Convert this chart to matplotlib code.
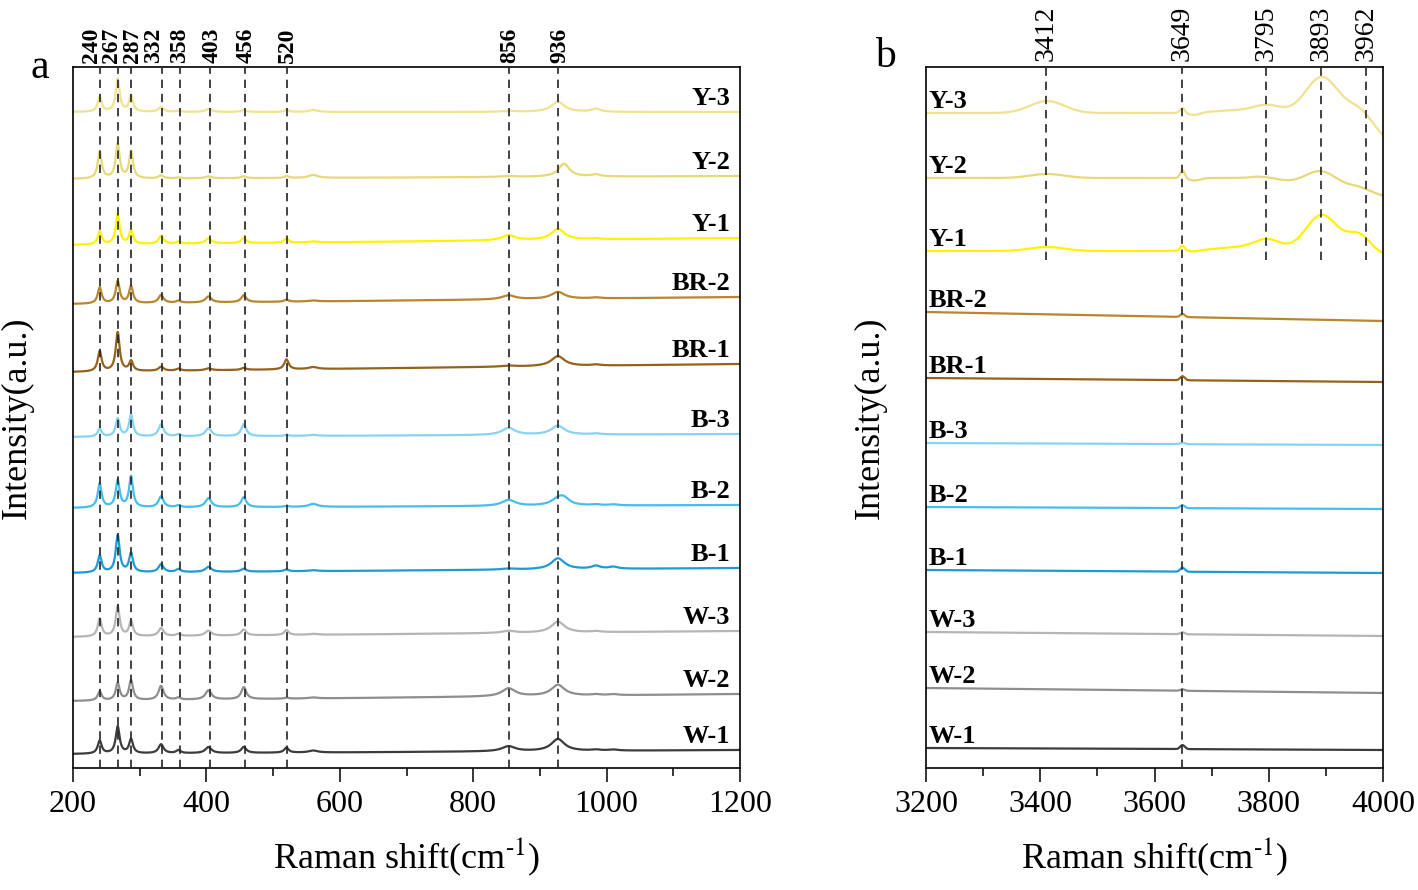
import numpy as np
import matplotlib
matplotlib.use('Agg')
import matplotlib.pyplot as plt
from matplotlib.ticker import MultipleLocator

plt.rcParams['font.family'] = 'serif'
plt.rcParams['font.serif'] = ['Liberation Serif', 'DejaVu Serif']
plt.rcParams['mathtext.fontset'] = 'stix'

# samples, top to bottom
samples = ['Y-3', 'Y-2', 'Y-1', 'BR-2', 'BR-1', 'B-3', 'B-2', 'B-1', 'W-3', 'W-2', 'W-1']
colors = ['#EFE38F', '#E6DA78', '#FFF200', '#B8862E', '#93621C', '#86D3F2',
          '#45BEEE', '#1E9AD6', '#B5B5B5', '#8E8E8E', '#3C3C3C']

# ---- panel a: 200-1200 cm-1 ----
# baseline (left end, right end), arbitrary units
base_a_left = [656, 589, 523, 464, 396, 331, 260, 195, 131, 67, 14]
base_a_right = [656, 592, 530, 471, 404, 334, 263, 200, 137, 74, 18]

peak_pos_a = [240, 267, 287, 332, 358, 403, 456, 520, 560, 853, 927, 936, 984, 1010]
peak_hwhm_a = [3.5, 3.5, 3.5, 4.5, 4, 5.5, 4.5, 4, 8, 12, 12, 10, 8, 8]
peak_height_a = [
    [15, 33, 16, 5, 1, 3, 2, 2, 2, 1, 10, 0, 3, 0],     # Y-3
    [27, 35, 27, 3, 1, 2, 2, 2, 3, 1, 0, 13, 2, 0],     # Y-2
    [13, 30, 14, 8, 2, 5, 5, 4, 1, 5, 11, 0, 1, 0],     # Y-1
    [16, 22, 17, 8, 2, 6, 7, 2, 1, 4, 7, 0, 1, 0],      # BR-2
    [20, 39, 10, 4, 2, 2, 2, 10, 2, 1, 10, 0, 1, 0],    # BR-1
    [8, 18, 22, 12, 2, 8, 12, 1, 1, 7, 9, 0, 1, 0],     # B-3
    [24, 27, 31, 11, 2, 9, 10, 1, 3, 6, 6, 6, 1, 1],    # B-2
    [17, 37, 19, 8, 3, 5, 3, 2, 1, 1, 11, 0, 3, 2],     # B-1
    [18, 30, 15, 8, 2, 5, 6, 5, 1, 2, 11, 0, 1, 0],     # W-3
    [9, 17, 20, 14, 2, 9, 12, 1, 1, 8, 11, 0, 1, 1],    # W-2
    [13, 27, 14, 9, 3, 6, 6, 5, 2, 5, 12, 0, 1, 1],     # W-1
]

marks_a = ['240', '267', '287', '332', '358', '403', '456', '520', '856', '936']
marks_a_line = [240, 267, 287, 333, 360, 405, 458, 521, 853, 927]
marks_a_text_x = [228, 258, 289, 321, 360, 408, 459, 522, 855, 930]

# ---- panel b: 3200-4000 cm-1 ----
base_b_x = [3200, 3780, 4000]
base_b = [
    [655, 655, 655], [590, 590, 572], [517, 517, 517],
    [456, 449.5, 447], [390, 387.1, 386], [325, 323.5, 323],
    [261, 259.5, 259], [198, 195.8, 195], [136, 133.1, 132],
    [80, 76.4, 75], [20, 18.6, 18],
]
peak_pos_b = [3412, 3649, 3670, 3760, 3798, 3893, 3958, 4010]
peak_sigma_b = [30, 4, 10, 50, 22, 28, 20, 25]
peak_height_b = [
    [12, 5, -2.5, 3, 6, 36, 6, -24],    # Y-3
    [4, 8, -2.5, 0, 2, 16, 5, 0],       # Y-2
    [4, 5, -1, 4, 9, 36, 16, -4],       # Y-1
    [0, 3, 0, 0, 0, 0, 0, 0],           # BR-2
    [0, 4, 0, 0, 0, 0, 0, 0],           # BR-1
    [0, 1.5, 0, 0, 0, 0, 0, 0],         # B-3
    [0, 3, 0, 0, 0, 0, 0, 0],           # B-2
    [0, 4, 0, 0, 0, 0, 0, 0],           # B-1
    [0, 2, 0, 0, 0, 0, 0, 0],           # W-3
    [0, 1.5, 0, 0, 0, 0, 0, 0],         # W-2
    [0, 4, 0, 0, 0, 0, 0, 0],           # W-1
]
marks_b = ['3412', '3649', '3795', '3893', '3962']
marks_b_line = [3410, 3649, 3795, 3891, 3970]
marks_b_full = [False, True, False, False, False]
marks_b_short_bottom = 508

Y_TOP = 701


def lorentz(x, c, h, w):
    return h / (1.0 + ((x - c) / w) ** 2)


def gauss(x, c, h, s):
    return h * np.exp(-0.5 * ((x - c) / s) ** 2)


def style_axes(ax, xmin, xmax):
    ax.set_xlim(xmin, xmax)
    ax.set_ylim(0, Y_TOP)
    ax.set_yticks([])
    ax.xaxis.set_major_locator(MultipleLocator(200))
    ax.xaxis.set_minor_locator(MultipleLocator(100))
    ax.tick_params(axis='x', which='major', direction='out', length=10, width=1.1,
                   labelsize=23, pad=6)
    ax.tick_params(axis='x', which='minor', direction='out', length=6, width=1.1)
    for s in ax.spines.values():
        s.set_linewidth(1.2)
    ax.set_xlabel(r'Raman shift(cm$^{\text{-}1}$)', fontsize=26, labelpad=12)
    ax.set_ylabel('Intensity(a.u.)', fontsize=26)


fig = plt.figure(figsize=(14.18, 8.9), dpi=100)
ax_a = fig.add_axes([73 / 1418, 122 / 890, 667 / 1418, 701 / 890])
ax_b = fig.add_axes([926 / 1418, 122 / 890, 457 / 1418, 701 / 890])

dash = (0, (5, 3.5))

# panel a
xa = np.linspace(200, 1200, 4001)
for i, name in enumerate(samples):
    y = np.interp(xa, [200, 1200], [base_a_left[i], base_a_right[i]])
    for c, w, h in zip(peak_pos_a, peak_hwhm_a, peak_height_a[i]):
        y = y + lorentz(xa, c, h, w)
    ax_a.plot(xa, y, color=colors[i], lw=1.6, zorder=2)
    ax_a.text(1185, base_a_right[i] + 7, name, ha='right', va='baseline',
              fontsize=19, fontweight='bold')

for xl in marks_a_line:
    ax_a.axvline(xl, color='#222222', lw=1.2, ls=dash, zorder=3)
for lab, xt in zip(marks_a, marks_a_text_x):
    ax_a.annotate(lab, xy=(xt, 1.0), xycoords=('data', 'axes fraction'),
                  xytext=(0, 3), textcoords='offset points', rotation=90,
                  ha='center', va='bottom', fontsize=17, fontweight='bold')
style_axes(ax_a, 200, 1200)
ax_a.yaxis.labelpad = 28

# panel b
xb = np.linspace(3200, 4000, 3201)
for i, name in enumerate(samples):
    y = np.interp(xb, base_b_x, base_b[i])
    for c, s, h in zip(peak_pos_b, peak_sigma_b, peak_height_b[i]):
        y = y + gauss(xb, c, h, s)
    ax_b.plot(xb, y, color=colors[i], lw=1.6, zorder=2)
    ax_b.text(3205, base_b[i][0] + 5, name, ha='left', va='baseline',
              fontsize=19, fontweight='bold')

for lab, xl, full in zip(marks_b, marks_b_line, marks_b_full):
    if full:
        ax_b.axvline(xl, color='#222222', lw=1.2, ls=dash, zorder=3)
    else:
        ax_b.vlines(xl, marks_b_short_bottom, Y_TOP, color='#222222', lw=1.2,
                    linestyles=[dash], zorder=3)
    ax_b.annotate(lab, xy=(xl, 1.0), xycoords=('data', 'axes fraction'),
                  xytext=(0, 4), textcoords='offset points', rotation=90,
                  ha='center', va='bottom', fontsize=20)
style_axes(ax_b, 3200, 4000)
ax_b.yaxis.labelpad = 28

fig.text(40 / 1418, 1 - 68 / 890, 'a', fontsize=30, ha='center', va='center')
fig.text(885 / 1418, 1 - 57 / 890, 'b', fontsize=30, ha='center', va='center')

fig.savefig('out.png', dpi=100)
